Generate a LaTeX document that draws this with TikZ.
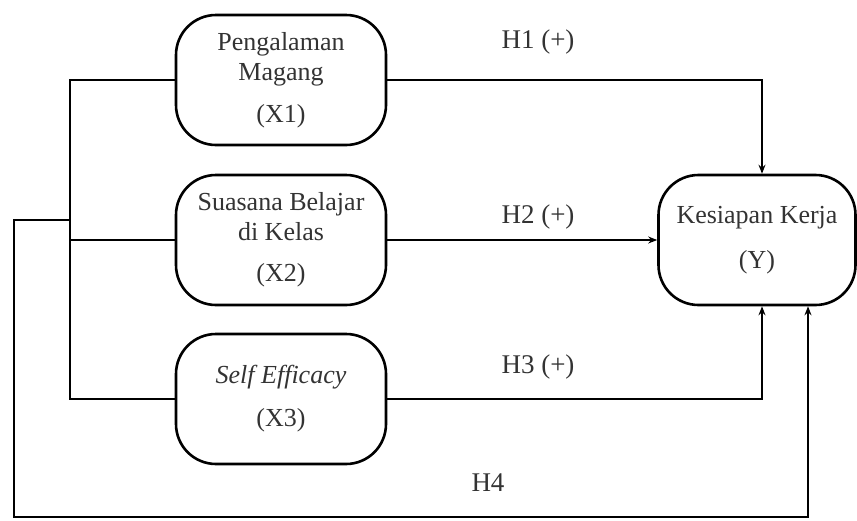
\documentclass[tikz,border=0pt]{standalone}
\usepackage{fontspec}
\setmainfont{Liberation Serif}
\usepackage{tikz}
\usetikzlibrary{positioning, arrows.meta, calc}

\begin{document}
\begin{tikzpicture}[x=1pt, y=-1pt,
  var/.style={draw, line width=2.6pt, rounded corners=40pt, minimum width=210pt,
    minimum height=130pt, align=center, inner sep=0pt, text=black!80,
    font=\fontsize{26}{30}\selectfont},
  link/.style={line width=1.8pt},
  arr/.style={link, -{Stealth[length=9pt, width=7pt]}},
  hyp/.style={text=black!80, font=\fontsize{27}{30}\selectfont}]
\useasboundingbox (0,0) rectangle (857,520);
% Independent variables and the dependent variable
\node[var] (x1) at (281,80) {Pengalaman\\Magang\\[12pt](X1)};
\node[var] (x2) at (281,240) {Suasana Belajar\\di Kelas\\[11pt](X2)};
\node[var] (x3) at (281,399) {\textit{Self Efficacy}\\[13pt](X3)};
\node[var, minimum width=197pt] (y) at (757,240) {Kesiapan Kerja\\[15pt](Y)};

\coordinate (bus) at (70,220);
\coordinate (low) at (14,517);

% Simultaneous path H4
\draw[link] (x1.west) -| (bus) |- (x3.west);
\draw[link] (x2.west) -- (x2.west -| bus);
\draw[arr] (bus) -| (low) -| ([xshift=51pt]y.south);

% Partial paths H1--H3
\draw[arr] (x1.east) -| ([xshift=5pt]y.north);
\draw[arr] (x2.east) -- (y.west);
\draw[arr] (x3.east) -| ([xshift=5pt]y.south);

\node[hyp] (h1) at (538,42) {H1 (+)};
\node[hyp] (h2) at (538,217) {H2 (+)};
\node[hyp] (h3) at (538,367) {H3 (+)};
\node[hyp] (h4) at (488,483) {H4};
\end{tikzpicture}
\end{document}
